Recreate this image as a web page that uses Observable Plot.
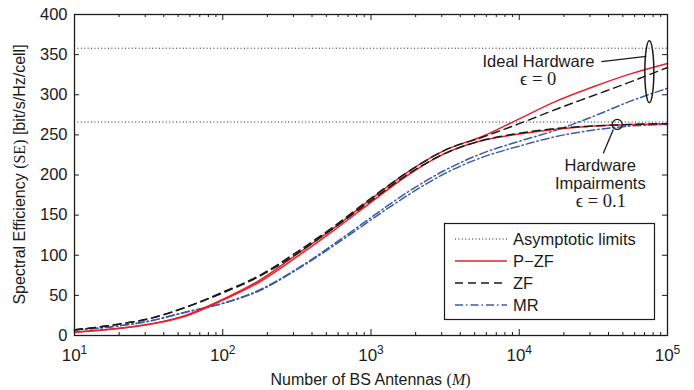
<!DOCTYPE html>
<html><head><meta charset="utf-8">
<script src="https://cdn.jsdelivr.net/npm/d3@7"></script>
<script src="https://cdn.jsdelivr.net/npm/@observablehq/plot@0.6"></script>
<style>body{margin:0;background:#fff} #chart svg{display:block}</style>
</head><body><div id="chart"></div>
<script>
// ---- data ----
const antennas = [10, 18, 32, 56, 100, 178, 316, 562, 1000, 1778, 3162, 5623, 10000, 17783, 31623, 56234, 100000];
const pzfIdeal    = [4, 8, 14, 25, 45, 69, 101, 134, 170, 204, 231, 248, 270, 292, 310, 326, 339];
const pzfImpaired = [4, 8, 14, 24, 44, 67, 98, 131, 166, 200, 227, 243, 251, 257, 261, 263, 264];
const zfIdeal     = [7, 13, 21, 35, 54, 75, 104, 136, 171, 204, 231, 247, 264, 282, 299, 316, 334];
const zfImpaired  = [7, 13, 21, 35, 53, 74, 102, 134, 168, 201, 227, 243, 252, 258, 261, 263, 264];
const mrIdeal     = [7, 11, 18, 29, 40, 57, 83, 114, 147, 179, 206, 227, 242, 256, 273, 292, 308];
const mrImpaired  = [7, 11, 18, 29, 40, 56, 82, 112, 144, 175, 202, 222, 236, 248, 256, 261, 263];
const asymptoticLimits = [358, 266];
const yTicks = [0, 50, 100, 150, 200, 250, 300, 350, 400];
const xTicks = [10, 100, 1000, 10000, 100000];
const xTickExponents = ["1", "2", "3", "4", "5"];
const minorTicks = [1, 10, 100, 1000].flatMap(d => [2,3,4,5,6,7,8,9].map(k => k * d * 10));
const legendLabels = ["Asymptotic limits", "P\u2212ZF", "ZF", "MR"];

const series = [
  {key: "MR ideal", method: "MR", values: mrIdeal},
  {key: "MR impaired", method: "MR", values: mrImpaired},
  {key: "P-ZF ideal", method: "P-ZF", values: pzfIdeal},
  {key: "P-ZF impaired", method: "P-ZF", values: pzfImpaired},
  {key: "ZF ideal", method: "ZF", values: zfIdeal},
  {key: "ZF impaired", method: "ZF", values: zfImpaired}
];
const rows = series.flatMap(s => antennas.map((M, i) => ({M, SE: s.values[i], key: s.key, method: s.method})));

const RED = "#e8202a", BLUE = "#3b5aa8", INK = "#1b1b1b";
const SERIF = "Liberation Serif, DejaVu Serif, serif";
const W = 694, H = 390, mL = 74, mR = 27, mT = 14, mB = 55;
const fw = W - mL - mR, fh = H - mT - mB;

const chart = Plot.plot({
  width: W, height: H,
  marginLeft: mL, marginRight: mR, marginTop: mT, marginBottom: mB,
  style: {fontFamily: "Liberation Sans, Arial, sans-serif", color: INK, background: "#fff"},
  x: {type: "log", domain: [10, 100000]},
  y: {domain: [0, 400]},
  marks: [
    Plot.ruleY(asymptoticLimits, {stroke: INK, strokeWidth: 1, strokeDasharray: "1,2.4"}),
    Plot.line(rows.filter(d => d.method === "MR"), {x: "M", y: "SE", z: "key", stroke: BLUE, strokeWidth: 1.5, strokeDasharray: "8,3,1.5,3", curve: "monotone-x"}),
    Plot.line(rows.filter(d => d.method === "P-ZF"), {x: "M", y: "SE", z: "key", stroke: RED, strokeWidth: 1.5, curve: "monotone-x"}),
    Plot.line(rows.filter(d => d.method === "ZF"), {x: "M", y: "SE", z: "key", stroke: INK, strokeWidth: 1.5, strokeDasharray: "8,5", curve: "monotone-x"}),
    // inward ticks (MATLAB style)
    Plot.tickY(yTicks, {y: d => d, stroke: INK, insetRight: fw - 5}),
    Plot.tickY(yTicks, {y: d => d, stroke: INK, insetLeft: fw - 5}),
    Plot.tickX(xTicks, {x: d => d, stroke: INK, insetTop: fh - 6}),
    Plot.tickX(xTicks, {x: d => d, stroke: INK, insetBottom: fh - 6}),
    Plot.tickX(minorTicks, {x: d => d, stroke: INK, insetTop: fh - 3}),
    Plot.tickX(minorTicks, {x: d => d, stroke: INK, insetBottom: fh - 3}),
    Plot.frame({stroke: INK, strokeWidth: 1.3}),
    Plot.axisY(yTicks, {tickSize: 0, tickPadding: 7, fontSize: 16.5, label: null}),
    Plot.axisX(xTicks, {tickSize: 0, tickPadding: 13, fontSize: 17, label: null, tickFormat: () => "10"}),
    // annotations
    Plot.text(["Ideal Hardware"], {x: 13460, y: 341.5, text: d => d, fontSize: 16.5, fill: INK}),
    Plot.text(["\u03F5 = 0"], {x: 13400, y: 319, text: d => d, fontSize: 18.5, fill: INK, fontFamily: SERIF}),
    Plot.link([{x1: 35800, y1: 341.4, x2: 71900, y2: 347.7}], {x1: "x1", y1: "y1", x2: "x2", y2: "y2", stroke: INK, strokeWidth: 1.3}),
    Plot.text(["Hardware", "Impairments"], {x: 35200, y: (d, i) => [212, 189][i], text: d => d, fontSize: 16.5, fill: INK}),
    Plot.text(["\u03F5 = 0.1"], {x: 35500, y: 167, text: d => d, fontSize: 18.5, fill: INK, fontFamily: SERIF}),
    Plot.dot([{M: 45800, SE: 263}], {x: "M", y: "SE", r: 5, stroke: INK, strokeWidth: 1.3, fill: "none"}),
    Plot.link([{x1: 43100, y1: 256.7, x2: 36900, y2: 227}], {x1: "x1", y1: "y1", x2: "x2", y2: "y2", stroke: INK, strokeWidth: 1.3})
  ]
});
document.getElementById("chart").appendChild(chart);

const svg = d3.select(chart);
const xs = chart.scale("x"), ys = chart.scale("y");
// superscript exponents on x tick labels
svg.selectAll('g[aria-label="x-axis tick label"] text').each(function(d, i) {
  d3.select(this).append("tspan").attr("dy", "-0.55em").attr("font-size", "12px").text(xTickExponents[i]);
});
// bracket ellipse around the ideal-hardware curves
svg.append("ellipse")
  .attr("cx", xs.apply(76000)).attr("cy", ys.apply(328)).attr("rx", 4.5).attr("ry", 31)
  .attr("fill", "none").attr("stroke", INK).attr("stroke-width", 1.5);

// axis labels
svg.append("text")
  .attr("transform", `translate(25,${mT + fh / 2}) rotate(-90)`)
  .attr("text-anchor", "middle").attr("font-size", 16).attr("fill", INK)
  .call(t => {
    t.append("tspan").text("Spectral Efficiency ");
    t.append("tspan").attr("font-family", SERIF).text("(SE)");
    t.append("tspan").text(" [bit/s/Hz/cell]");
  });
svg.append("text")
  .attr("x", mL + fw / 2).attr("y", 385)
  .attr("text-anchor", "middle").attr("font-size", 16).attr("fill", INK)
  .call(t => {
    t.append("tspan").text("Number of BS Antennas ");
    t.append("tspan").attr("font-family", SERIF).text("(");
    t.append("tspan").attr("font-family", SERIF).attr("font-style", "italic").text("M");
    t.append("tspan").attr("font-family", SERIF).text(")");
  });

// legend
const lg = svg.append("g");
lg.append("rect").attr("x", 444.5).attr("y", 223.5).attr("width", 210).attr("height", 96)
  .attr("fill", "#fff").attr("stroke", INK).attr("stroke-width", 1.2);
const legendStyles = [
  {stroke: INK, dash: "1,2.4", w: 1},
  {stroke: RED, dash: null, w: 1.5},
  {stroke: INK, dash: "8,5", w: 1.5},
  {stroke: BLUE, dash: "8,3,1.5,3", w: 1.5}
];
legendLabels.forEach((label, i) => {
  const cy = 239 + i * 22;
  lg.append("line").attr("x1", 455).attr("x2", 507).attr("y1", cy).attr("y2", cy)
    .attr("stroke", legendStyles[i].stroke).attr("stroke-width", legendStyles[i].w)
    .attr("stroke-dasharray", legendStyles[i].dash);
  lg.append("text").attr("x", 513).attr("y", cy).attr("dy", "0.36em").attr("text-anchor", "start")
    .attr("font-size", 16.5).attr("fill", INK).text(label);
});
</script>
</body></html>
